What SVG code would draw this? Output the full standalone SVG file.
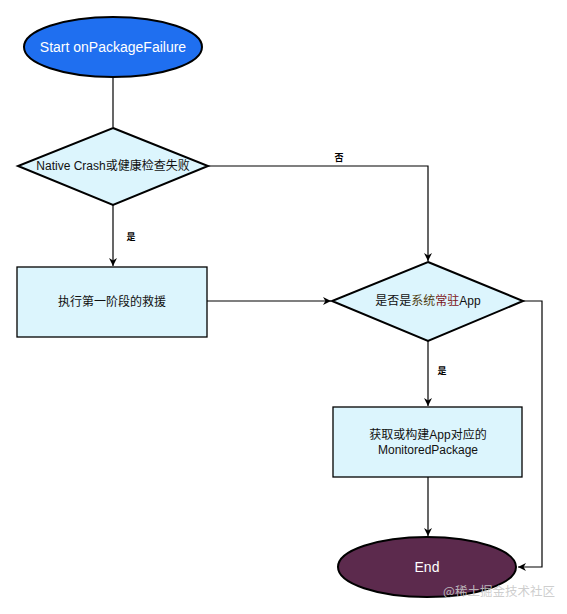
<svg xmlns="http://www.w3.org/2000/svg" width="567" height="614" viewBox="0 0 567 614">
<style>
.t{font-family:"Liberation Sans","Noto Sans CJK SC",Arial,sans-serif;font-size:12px;fill:#111;text-anchor:middle;dominant-baseline:central}
.w{fill:#fff;font-size:14px}
.box{fill:#dcf5fd;stroke:#000;stroke-width:1.3}
.dia{fill:#dcf5fd;stroke:#000;stroke-width:2}
.ln{fill:none;stroke:#000;stroke-width:1.2}
.lb{font-family:"Noto Sans CJK SC",sans-serif;font-size:9px;font-weight:bold;fill:#000;text-anchor:middle;dominant-baseline:central}
</style>
<defs>
<marker id="ar" viewBox="0 0 10 10" refX="10" refY="5" markerWidth="8" markerHeight="8" markerUnits="userSpaceOnUse" orient="auto">
<path d="M0,0 L10,5 L0,10 L3,5 z" fill="#000"/>
</marker>
</defs>
<rect width="567" height="614" fill="#fff"/>
<g id="connectors">
<path class="ln" d="M113,77 V127"/>
<path class="ln" d="M113,205 V266" marker-end="url(#ar)"/>
<path class="ln" d="M207,301 H331" marker-end="url(#ar)"/>
<path class="ln" d="M208,166 H428 V261" marker-end="url(#ar)"/>
<path class="ln" d="M428,341 V406" marker-end="url(#ar)"/>
<path class="ln" d="M428,477 V536" marker-end="url(#ar)"/>
<path class="ln" d="M523,301 H542 V567 H518" marker-end="url(#ar)"/>
<text class="lb" x="131" y="236">是</text>
<text class="lb" x="339" y="157">否</text>
<text class="lb" x="442" y="370">是</text>
</g>
<g id="start">
<ellipse cx="113" cy="47" rx="89" ry="30" fill="#1f6ff0" stroke="#000" stroke-width="2"/>
<text class="t w" x="113" y="47">Start onPackageFailure</text>
</g>
<g id="check">
<polygon class="dia" points="113,128 208,166 113,205 18,166"/>
<text class="t" x="113" y="166">Native Crash或健康检查失败</text>
</g>
<g id="rescue">
<rect class="box" x="17" y="267" width="190" height="70"/>
<text class="t" x="112" y="302">执行第一阶段的救援</text>
</g>
<g id="persistent">
<polygon class="dia" points="428,262 523,301 428,341 332,301"/>
<text class="t" x="428" y="301">是否是<tspan fill="#4f3f12">系统</tspan><tspan fill="#7d1520">常驻</tspan>App</text>
</g>
<g id="monitored">
<rect class="box" x="333" y="407" width="189" height="70"/>
<text class="t" x="428" y="435">获取或构建App对应的</text>
<text class="t" x="428" y="450">MonitoredPackage</text>
</g>
<g id="end">
<ellipse cx="427" cy="567" rx="89" ry="30" fill="#5c2a4d" stroke="#000" stroke-width="2"/>
<text class="t w" x="427" y="567">End</text>
</g>
<text x="499" y="590" font-family="Noto Sans CJK SC,sans-serif" font-size="12.5" fill="#c8c8c8" fill-opacity="0.9" text-anchor="middle" dominant-baseline="central">@稀土掘金技术社区</text>
</svg>
